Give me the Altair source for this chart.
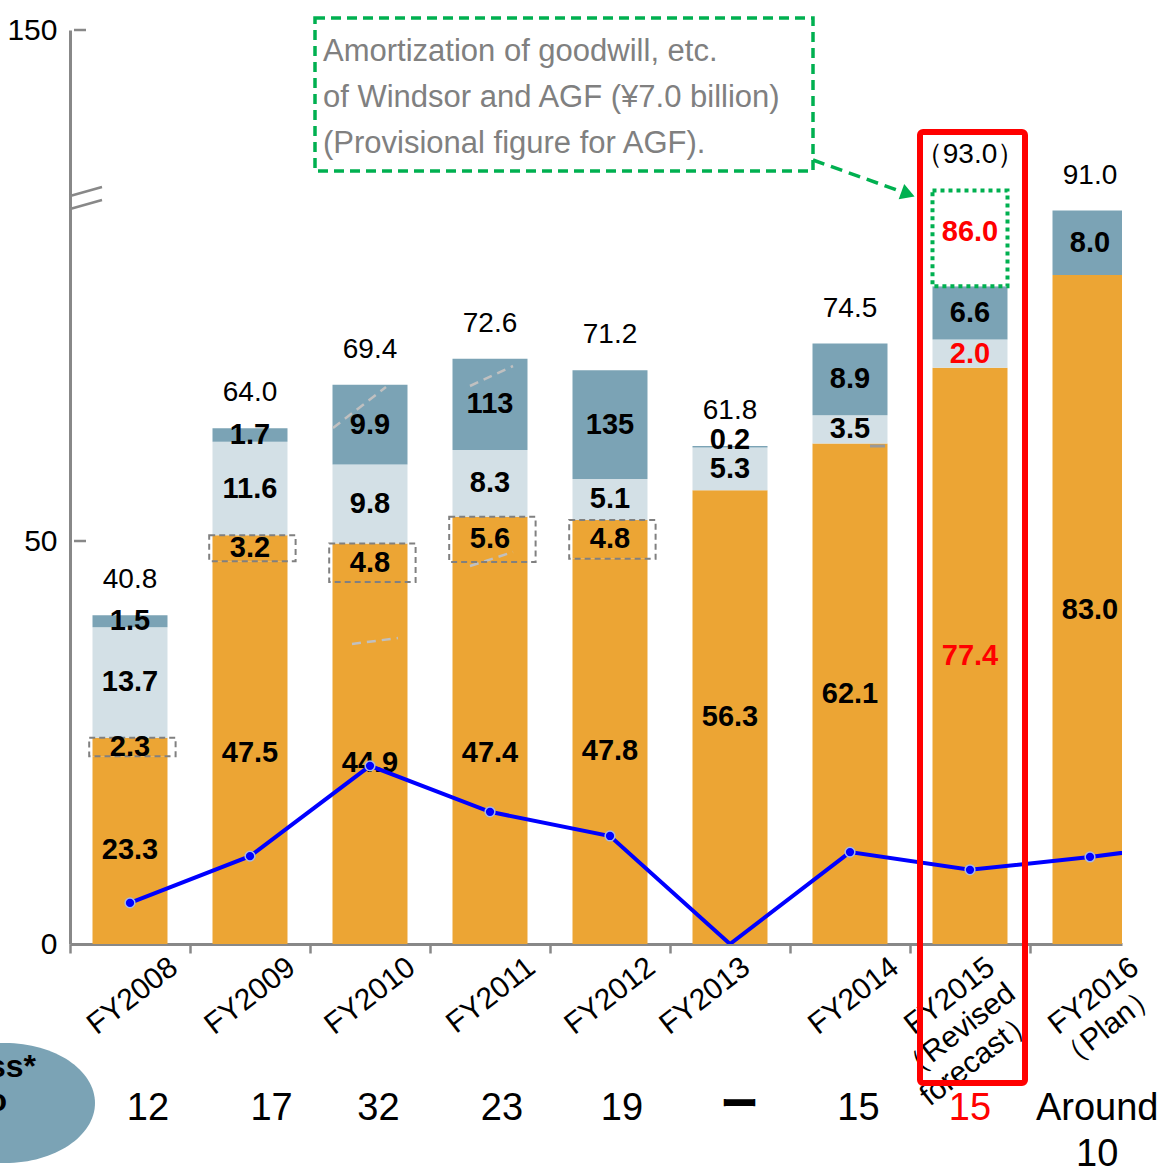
import altair as alt
import pandas as pd

# ---------------- data ----------------
years = ["FY2008", "FY2009", "FY2010", "FY2011", "FY2012", "FY2013", "FY2014", "FY2015", "FY2016"]
x_labels = ["FY2008", "FY2009", "FY2010", "FY2011", "FY2012", "FY2013", "FY2014",
            "FY2015\n（Revised\nforecast）", "FY2016\n（Plan）"]

# drawn segment heights
base_h = [23.3, 47.5, 44.9, 47.4, 47.8, 56.3, 62.1, 71.5, 83.0]
extra_h = [2.3, 3.2, 4.8, 5.6, 4.8, 0.0, 0.0, 0.0, 0.0]
light_h = [13.7, 11.6, 9.8, 8.3, 5.1, 5.3, 3.5, 3.5, 0.0]
dark_h = [1.5, 1.7, 9.9, 11.3, 13.5, 0.2, 8.9, 6.6, 8.0]
goodwill_h = [0.0, 0.0, 0.0, 0.0, 0.0, 0.0, 0.0, 11.9, 0.0]

# printed labels
base_lbl = ["23.3", "47.5", "44.9", "47.4", "47.8", "56.3", "62.1", "77.4", "83.0"]
extra_lbl = ["2.3", "3.2", "4.8", "5.6", "4.8", "", "", "", ""]
light_lbl = ["13.7", "11.6", "9.8", "8.3", "5.1", "5.3", "3.5", "2.0", ""]
dark_lbl = ["1.5", "1.7", "9.9", "113", "135", "0.2", "8.9", "6.6", "8.0"]
goodwill_lbl = ["", "", "", "", "", "", "", "86.0", ""]
total_lbl = ["40.8", "64.0", "69.4", "72.6", "71.2", "61.8", "74.5", "（93.0）", "91.0"]
red_year = [False, False, False, False, False, False, False, True, False]

# blue line (last value continues past the right edge)
line_vals = [5.1, 10.9, 22.1, 16.4, 13.4, 0.0, 11.4, 9.2, 10.8, 12.7]
line_has_dot = [True, True, True, True, True, False, True, True, True, False]

bottom_lbl = ["12", "17", "32", "23", "19", "ー", "15", "15", "Around\n10"]

note_text = "Amortization of goodwill, etc.\nof Windsor and AGF (¥7.0 billion)\n(Provisional figure for AGF)."

# ---------------- layout / style constants ----------------
ORANGE = "#ECA534"
LIGHT = "#D3E0E6"
DARK = "#7BA3B5"
GREEN = "#00B050"
GRAY = "#888888"
FONT = "Liberation Sans"
xlab_nudge = [0.29, 0.27, 0.27, 0.27, 0.27, 0.06, 0.30, 0.10, 0.30]
bottom_nudge = [0.15, 0.18, 0.07, 0.10, 0.10, 0.08, 0.07, 0.0, 0.06]

# ---------------- tables ----------------
seg_rows, lbl_rows, tot_rows, box_rows = [], [], [], []
for i in range(len(years)):
    y = 0.0
    segs = [
        (base_h[i], ORANGE, base_lbl[i], "#FF0000" if red_year[i] else "black"),
        (extra_h[i], ORANGE, extra_lbl[i], "black"),
        (light_h[i], LIGHT, light_lbl[i], "#FF0000" if red_year[i] else "black"),
        (dark_h[i], DARK, dark_lbl[i], "black"),
    ]
    for k, (h, fill, lbl, col) in enumerate(segs):
        if h > 0:
            seg_rows.append(dict(i=i, xa=i - 0.3125, xb=i + 0.3125, y0=y, y1=y + h, fill=fill))
            if lbl:
                lbl_rows.append(dict(i=i, ym=y + h / 2, t=lbl, c=col, small=h < 1))
            if k == 1:
                box_rows.append(dict(i=i, xa=i - 0.34, xb=i + 0.38, y0=y, y1=y + h))
        y += h
    g0 = y
    if goodwill_h[i] > 0:
        y += goodwill_h[i]
    tot_rows.append(dict(i=i, top=y, t=total_lbl[i], g0=g0, g1=y, gl=goodwill_lbl[i]))

seg_df = pd.DataFrame(seg_rows)
lbl_df = pd.DataFrame(lbl_rows)
tot_df = pd.DataFrame(tot_rows)
box_df = pd.DataFrame(box_rows)
gw_df = tot_df[tot_df["gl"] != ""].copy()
gw_df["xa"] = gw_df["i"] - 0.3125
gw_df["xb"] = gw_df["i"] + 0.3125

line_df = pd.DataFrame(dict(i=list(range(len(line_vals))), v=line_vals, dot=line_has_dot))
xl_df = pd.DataFrame(dict(i=list(range(len(years))), t=x_labels, n=xlab_nudge))
bot_df = pd.DataFrame(dict(i=list(range(len(years))), t=bottom_lbl, n=bottom_nudge,
                           c=["#FF0000" if r else "black" for r in red_year]))
one = pd.DataFrame({"a": [0]})

# faint dashed strokes seen on the original artwork (pixel decoration)
deco_df = pd.DataFrame(dict(xa=[263, 400, 400, 282], ya=[398, 356, 536, 614],
                            xb=[316, 443, 443, 328], yb=[357, 336, 522, 608]))

W, H = 1052, 914
xs = alt.Scale(domain=[-0.5, 8.2667], nice=False, zero=False)
ys = alt.Scale(domain=[0, 113.4], nice=False, zero=True)

x_axis = alt.Axis(values=[-0.5, 0.5, 1.5, 2.5, 3.5, 4.5, 5.5, 6.5, 7.5], labels=False, ticks=True,
                  tickSize=9, tickColor=GRAY, tickWidth=2.5, domainColor=GRAY, domainWidth=3,
                  grid=False, title=None)
y_axis = alt.Axis(values=[0, 50, 113.4], labelExpr="datum.value > 100 ? '150' : datum.label",
                  ticks=False, tickSize=0, labelPadding=13, labelFontSize=30, labelFont=FONT,
                  labelColor="black", labelFlush=False, labelOverlap=False,
                  domainColor=GRAY, domainWidth=3, grid=False, title=None)

bars = alt.Chart(seg_df).mark_rect(clip=True).encode(
    x=alt.X("xa:Q", scale=xs, axis=x_axis), x2="xb:Q",
    y=alt.Y("y0:Q", scale=ys, axis=y_axis), y2="y1:Q",
    color=alt.Color("fill:N", scale=None),
)

deco = alt.Chart(deco_df).mark_rule(color="#C0C0C0", strokeWidth=2.5, strokeDash=[9, 6]).encode(
    x=alt.X("xa:Q", scale=None), x2="xb:Q", y=alt.Y("ya:Q", scale=None), y2="yb:Q")
deco2 = alt.Chart(one).mark_rule(color="#999999", strokeWidth=3).encode(
    x=alt.value(800), x2=alt.value(815), y=alt.value(416))

boxes = alt.Chart(box_df).mark_rect(fill="white", fillOpacity=0, stroke="#808080",
                                     strokeWidth=2, strokeDash=[6, 4]).encode(
    x=alt.X("xa:Q", scale=xs), x2="xb:Q", y=alt.Y("y0:Q", scale=ys), y2="y1:Q")

gw = alt.Chart(gw_df).mark_rect(fill="white", stroke=GREEN, strokeWidth=4, strokeDash=[4, 4]).encode(
    x=alt.X("xa:Q", scale=xs), x2="xb:Q", y=alt.Y("g0:Q", scale=ys), y2="g1:Q")

seg_text = alt.Chart(lbl_df).transform_filter("!datum.small").mark_text(
    font=FONT, fontSize=29, fontWeight="bold", baseline="middle").encode(
    x=alt.X("i:Q", scale=xs), y=alt.Y("ym:Q", scale=ys), text="t:N",
    color=alt.Color("c:N", scale=None))
seg_text_small = alt.Chart(lbl_df).transform_filter("datum.small").mark_text(
    font=FONT, fontSize=29, fontWeight="bold", baseline="middle", dy=-7).encode(
    x=alt.X("i:Q", scale=xs), y=alt.Y("ym:Q", scale=ys), text="t:N",
    color=alt.Color("c:N", scale=None))

gw_text = alt.Chart(gw_df).mark_text(font=FONT, fontSize=29, fontWeight="bold", baseline="middle",
                                     color="#FF0000", dy=-6).encode(
    x=alt.X("i:Q", scale=xs), y=alt.Y("mid:Q", scale=ys), text="gl:N"
).transform_calculate(mid="(datum.g0 + datum.g1) / 2")

tot_text = alt.Chart(tot_df).mark_text(font=FONT, fontSize=28, baseline="middle", dy=-35,
                                       color="black").encode(
    x=alt.X("i:Q", scale=xs), y=alt.Y("top:Q", scale=ys), text="t:N")

line = alt.Chart(line_df).mark_line(color="#0000FF", strokeWidth=4, clip=True).encode(
    x=alt.X("i:Q", scale=xs), y=alt.Y("v:Q", scale=ys))
dots = alt.Chart(line_df).transform_filter("datum.dot").mark_circle(
    fill="#0000FF", stroke="#A8B8E0", strokeWidth=1.5, size=95, opacity=1).encode(
    x=alt.X("i:Q", scale=xs), y=alt.Y("v:Q", scale=ys))

ytick_df = pd.DataFrame({"v": [50, 113.4]})
yticks = alt.Chart(ytick_df).mark_rule(color=GRAY, strokeWidth=2.5).encode(
    x=alt.value(4), x2=alt.value(16), y=alt.Y("v:Q", scale=ys))

brk1 = alt.Chart(one).mark_rule(color=GRAY, strokeWidth=2.5).encode(
    x=alt.value(0), x2=alt.value(32), y=alt.value(166), y2=alt.value(157))
brk2 = alt.Chart(one).mark_rule(color=GRAY, strokeWidth=2.5).encode(
    x=alt.value(0), x2=alt.value(32), y=alt.value(179), y2=alt.value(170))

xlab = alt.Chart(xl_df).mark_text(font=FONT, fontSize=30, align="right", baseline="top", angle=322,
                                  lineBreak="\n", lineHeight=33, color="black").encode(
    x=alt.X("xp:Q", scale=xs), y=alt.value(H + 8), text="t:N"
).transform_calculate(xp="datum.i + datum.n")

bot = alt.Chart(bot_df).transform_filter("datum.t != 'ー'").transform_calculate(
    xp="datum.i + datum.n").mark_text(font=FONT, fontSize=38, align="center", baseline="alphabetic",
                                     lineBreak="\n", lineHeight=46).encode(
    x=alt.X("xp:Q", scale=xs), y=alt.value(1090), text="t:N", color=alt.Color("c:N", scale=None))
bot_dash = alt.Chart(bot_df).transform_filter("datum.t == 'ー'").transform_calculate(
    xp="datum.i + datum.n").mark_text(font="Noto Sans CJK JP", fontSize=38, fontWeight=900,
                                     align="center", baseline="middle", color="black").encode(
    x=alt.X("xp:Q", scale=xs), y=alt.value(1076), text="t:N")

ellipse_path = ("M-1,0 C-1,-0.368 -0.552,-0.667 0,-0.667 C0.552,-0.667 1,-0.368 1,0 "
                "C1,0.368 0.552,0.667 0,0.667 C-0.552,0.667 -1,0.368 -1,0 Z")
ell = alt.Chart(one).mark_point(shape=ellipse_path, size=32400, filled=True, fill=DARK,
                                opacity=1, strokeWidth=0).encode(
    x=alt.value(-65), y=alt.value(1073))
ell_t1 = alt.Chart(one).mark_text(font=FONT, fontSize=32, fontWeight="bold", align="right",
                                  baseline="middle", color="black", text="Loss*").encode(
    x=alt.value(-34), y=alt.value(1037))
ell_t2 = alt.Chart(one).mark_text(font=FONT, fontSize=32, fontWeight="bold", align="right",
                                  baseline="middle", color="black", text="ratio").encode(
    x=alt.value(-63), y=alt.value(1071))

note_box = alt.Chart(one).mark_rect(fill="white", fillOpacity=0, stroke=GREEN, strokeWidth=3.5,
                                    strokeDash=[10, 6]).encode(
    x=alt.value(245), x2=alt.value(743), y=alt.value(-12), y2=alt.value(141))
note = alt.Chart(one).mark_text(font=FONT, fontSize=31, align="left", baseline="alphabetic",
                                color="#808080", lineBreak="\n", lineHeight=46, text=note_text).encode(
    x=alt.value(253), y=alt.value(31))
arrow = alt.Chart(one).mark_rule(color=GREEN, strokeWidth=3.5, strokeDash=[12, 7]).encode(
    x=alt.value(743), y=alt.value(130), x2=alt.value(838), y2=alt.value(164))
arrow_head = alt.Chart(one).mark_point(shape="triangle-right", angle=20, size=260, filled=True,
                                       fill=GREEN, opacity=1, strokeWidth=0).encode(
    x=alt.value(838), y=alt.value(164))

red_box = alt.Chart(one).mark_rect(fill="white", fillOpacity=0, stroke="#FF0000", strokeWidth=6,
                                   cornerRadius=3).encode(
    x=alt.value(850), x2=alt.value(955), y=alt.value(102), y2=alt.value(1053))

chart = alt.layer(
    bars, deco, deco2, boxes, gw, seg_text, seg_text_small, gw_text, tot_text, line, dots,
    yticks, brk1, brk2, xlab, bot, bot_dash, ell, ell_t1, ell_t2, note_box, note, arrow,
    arrow_head, red_box
).properties(
    width=W, height=H,
    autosize=alt.AutoSizeParams(type="none"),
    padding={"left": 70, "top": 30, "right": 46, "bottom": 223},
).configure_view(stroke=None)

chart.save("out.html", embed_options={"renderer": "svg", "actions": False})
